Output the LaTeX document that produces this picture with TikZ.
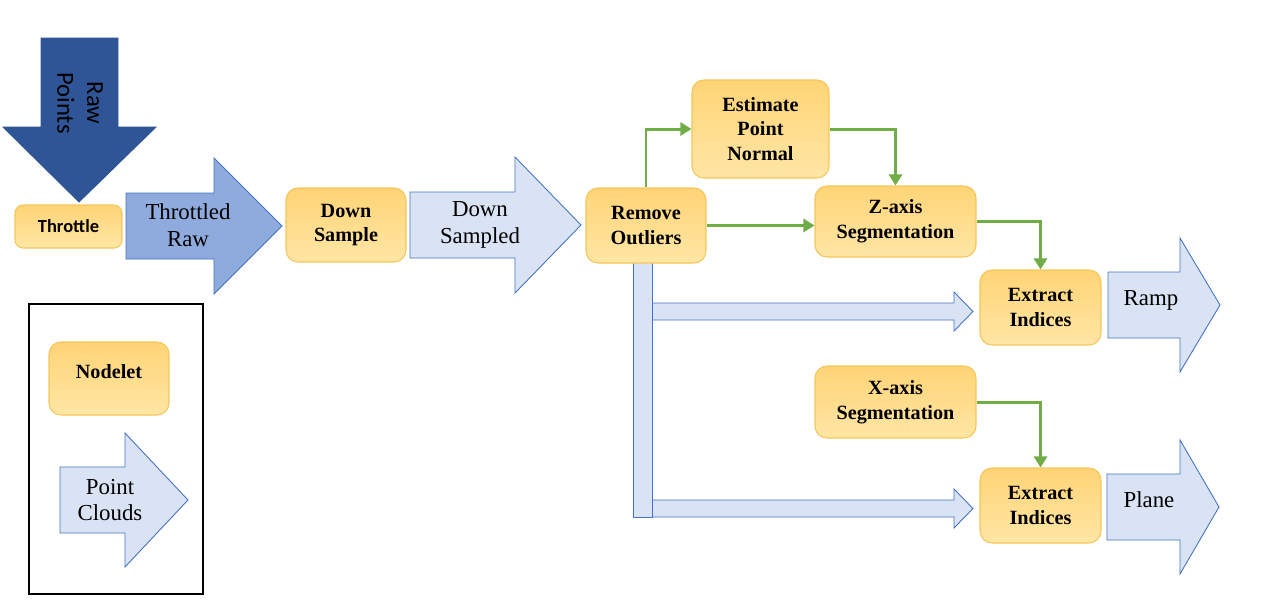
\documentclass[tikz,border=0pt]{standalone}
\usepackage{fontspec}
\setmainfont{Liberation Serif}
\newfontfamily\carlito{Carlito}
\usetikzlibrary{arrows.meta}

\definecolor{nodeletline}{RGB}{244,198,90}
\definecolor{nodelettop}{RGB}{255,212,118}
\definecolor{nodeletbot}{RGB}{255,230,165}
\definecolor{rawblue}{RGB}{47,85,151}
\definecolor{throttledblue}{RGB}{143,170,220}
\definecolor{cloudblue}{RGB}{218,227,243}
\definecolor{cloudline}{RGB}{68,114,196}
\definecolor{flowgreen}{RGB}{112,173,71}

\tikzset{
  nodelet/.style={draw=nodeletline, line width=0.6pt, rounded corners=0.24cm,
    top color=nodelettop, bottom color=nodeletbot, align=center, inner sep=0pt,
    font=\fontsize{11.5}{14}\selectfont\bfseries},
  cloud/.style={draw=cloudline, line width=0.5pt, fill=cloudblue},
  throttled/.style={draw=cloudline, line width=0.5pt, fill=throttledblue},
  raw/.style={draw=rawblue, line width=0.5pt, fill=rawblue},
  cloudtext/.style={align=center, font=\fontsize{13}{15}\selectfont},
  flow/.style={draw=flowgreen, line width=1.7pt, -{Triangle[length=0.22cm,width=0.26cm]}},
}

% tail x, head x, tip x, mid y, shaft half, head half
\newcommand{\fatarrow}[7]{%
  \draw[#1] (#2,#5-#6) -- (#3,#5-#6) -- (#3,#5-#7) -- (#4,#5)
    -- (#3,#5+#7) -- (#3,#5+#6) -- (#2,#5+#6) -- cycle;}

\begin{document}
\begin{tikzpicture}[x=0.02cm, y=-0.02cm]
  \useasboundingbox (0,0) rectangle (1265,610);

  % point cloud arrows
  \draw[raw] (41,38) -- (118,38) -- (118,127) -- (156,127) -- (79,202)
    -- (3,127) -- (41,127) -- cycle;
  \fatarrow{throttled}{126}{214}{282}{226}{33}{68}
  \fatarrow{cloud}{410}{515}{581}{225}{33}{68}
  \fatarrow{cloud}{652}{954}{973}{311.5}{8.5}{19.5}
  \fatarrow{cloud}{652}{954}{973}{508.5}{8.5}{19.5}
  \draw[cloud] (633,260) rectangle (652,517);
  \fatarrow{cloud}{1108}{1180}{1220}{305}{33}{67}
  \fatarrow{cloud}{1107}{1180}{1219}{507}{33}{67}

  \node[cloudtext, rotate=-90, font=\carlito\fontsize{14}{17}\selectfont] (rawtxt) at (80,103) {Raw\\Points};
  \node[cloudtext] (throttledtxt) at (188,225) {Throttled\\Raw};
  \node[cloudtext] (sampledtxt) at (480,225) {Down\\Sampled};
  \node[cloudtext] (ramptxt) at (1151,300) {Ramp};
  \node[cloudtext] (planetxt) at (1149,500) {Plane};

  % nodelets
  \node[nodelet, rounded corners=0.16cm, minimum width=2.14cm, minimum height=0.86cm,
    font=\carlito\fontsize{10.5}{13}\selectfont\bfseries] (throttle) at (68.5,226.5) {Throttle};
  \node[nodelet, minimum width=2.4cm, minimum height=1.48cm] (down) at (346,225) {Down\\Sample};
  \node[nodelet, minimum width=2.4cm, minimum height=1.5cm] (remove) at (646,225.5) {Remove\\Outliers};
  \node[nodelet, minimum width=2.74cm, minimum height=1.96cm] (estimate) at (760.5,129) {Estimate\\Point\\Normal};
  \node[nodelet, minimum width=3.22cm, minimum height=1.42cm] (zaxis) at (895.5,221.5) {Z-axis\\Segmentation};
  \node[nodelet, minimum width=2.42cm, minimum height=1.5cm] (extract1) at (1040.5,307.5) {Extract\\Indices};
  \node[nodelet, minimum width=3.22cm, minimum height=1.44cm] (xaxis) at (895.5,402) {X-axis\\Segmentation};
  \node[nodelet, minimum width=2.42cm, minimum height=1.5cm] (extract2) at (1040.5,505.5) {Extract\\Indices};

  \draw[flow] (remove.north) |- (estimate.west);
  \draw[flow] (estimate.east) -| (zaxis.north);
  \draw[flow] (remove.east) -- (remove.east -| zaxis.west);
  \draw[flow] (zaxis.east) -| (extract1.north);
  \draw[flow] (xaxis.east) -| (extract2.north);

  % legend
  \draw[line width=0.9pt] (29,304) rectangle (203,594);
  \node[nodelet, minimum width=2.4cm, minimum height=1.46cm, text depth=0.28cm] (nodelet) at (109,378.5) {Nodelet};
  \fatarrow{cloud}{60}{125}{188}{500}{33}{67}
  \node[cloudtext] (cloudstxt) at (110,500) {Point\\Clouds};
\end{tikzpicture}
\end{document}
